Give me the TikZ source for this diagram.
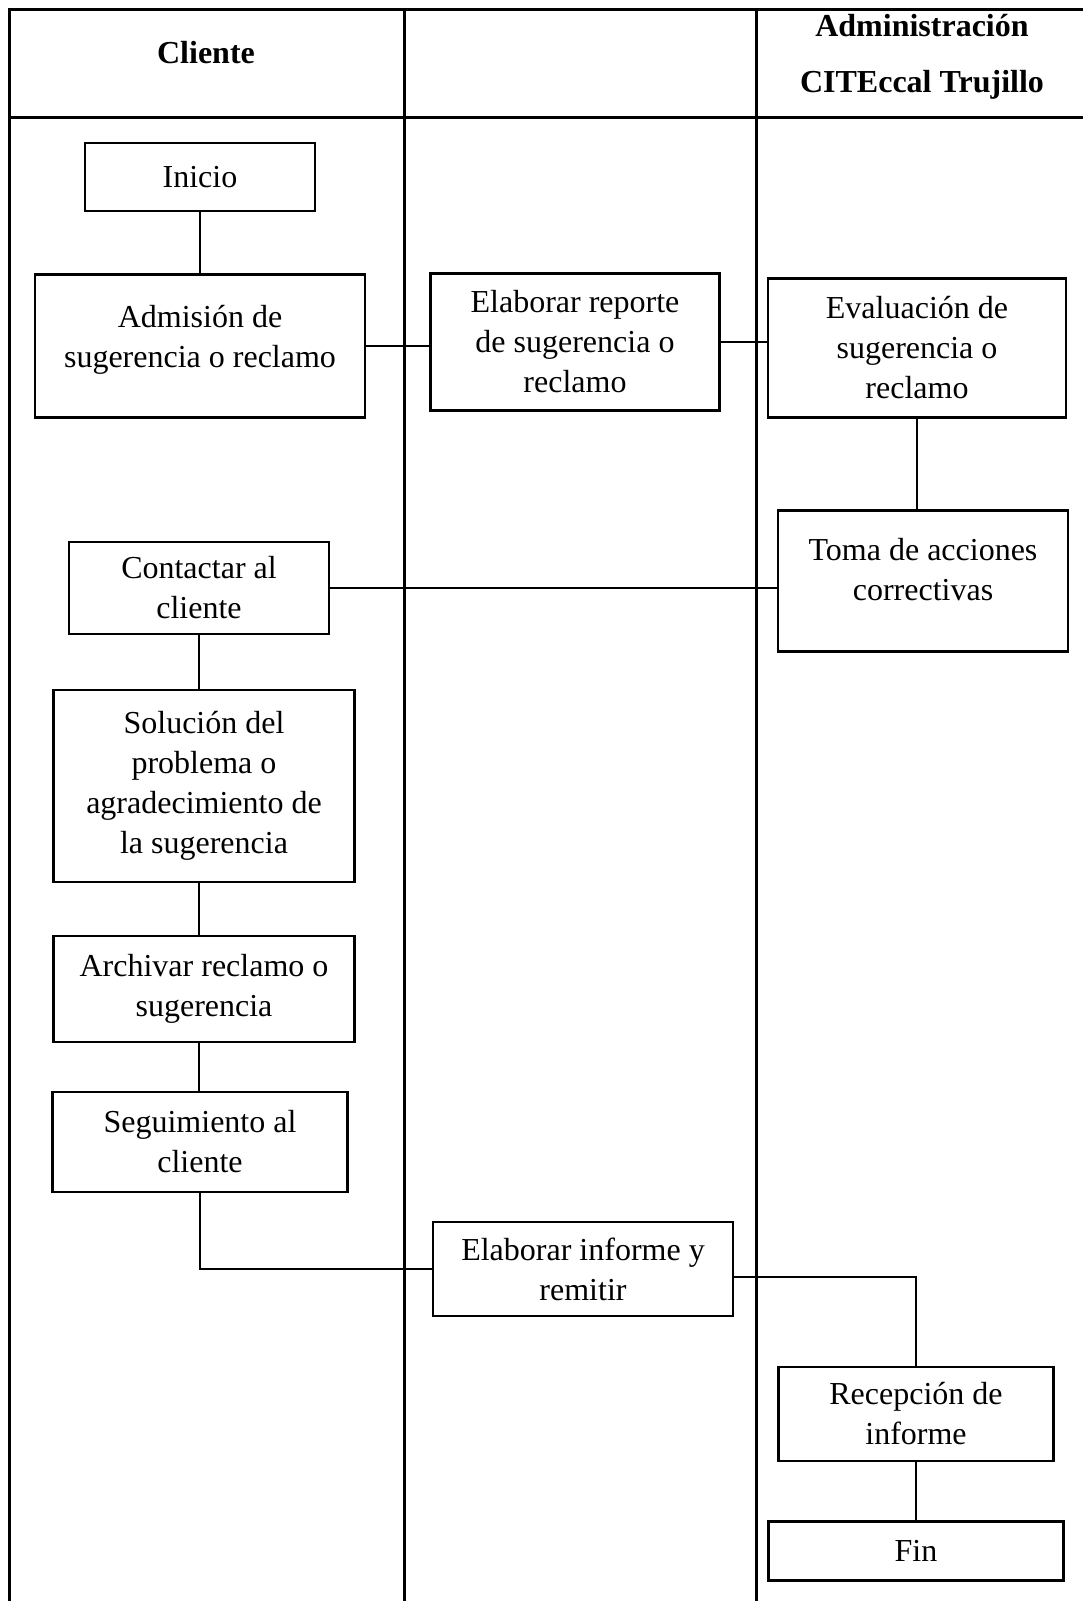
\documentclass[tikz,border=0pt]{standalone}
\usepackage{fontspec}
\setmainfont{Liberation Serif}
\usepackage{tikz}
\usetikzlibrary{
    calc,
    positioning
}

\tikzset{
    caja/.style={draw, line width=2.2pt, align=center, inner sep=0pt,
        font=\fontsize{32}{40}\selectfont},
    titulo/.style={align=center, inner sep=0pt,
        font=\fontsize{32}{56}\selectfont\bfseries},
    linea/.style={line width=1.2pt},
    tabla/.style={line width=3pt}
}

\begin{document}
\begin{tikzpicture}[x=1pt, y=-1pt]
                        \useasboundingbox (0, 0) rectangle (1083, 1601);
                        % tabla de carriles
                        \draw[tabla]
                        (9, 1601) -- (9, 9) -- (1083, 9)
                        (9, 117) -- (1083, 117)
                        (404, 9) -- (404, 1601)
                        (756, 9) -- (756, 1601);
                        \node[titulo] (cliente) at (206, 53) {Cliente};
                        \node[titulo] (admin) at (922, 57) {Administración\\CITEccal Trujillo};
                        % actividades
                        \node[caja, minimum width=230, minimum height=68] (inicio) at (200, 177) {Inicio};
                        \node[caja, minimum width=330, minimum height=143, text depth=20pt] (admision) at (200, 346) {Admisión de\\sugerencia o reclamo};
                        \node[caja, minimum width=289, minimum height=137] (reporte) at (575, 342) {Elaborar reporte\\de sugerencia o\\reclamo};
                        \node[caja, minimum width=298, minimum height=139] (evaluacion) at (917, 348) {Evaluación de\\sugerencia o\\reclamo};
                        \node[caja, minimum width=290, minimum height=141, text depth=24pt] (toma) at (923, 581) {Toma de acciones\\correctivas};
                        \node[caja, minimum width=260, minimum height=92] (contactar) at (199, 588) {Contactar al\\cliente};
                        \node[caja, minimum width=301, minimum height=192] (solucion) at (204, 786) {Solución del\\problema o\\agradecimiento de\\la sugerencia};
                        \node[caja, minimum width=301, minimum height=106] (archivar) at (204, 989) {Archivar reclamo o\\sugerencia};
                        \node[caja, minimum width=295, minimum height=100] (seguimiento) at (200, 1142) {Seguimiento al\\cliente};
                        \node[caja, minimum width=300, minimum height=94] (informe) at (583, 1269) {Elaborar informe y\\remitir};
                        \node[caja, minimum width=275, minimum height=94] (recepcion) at (916, 1414) {Recepción de\\informe};
                        \node[caja, minimum width=295, minimum height=59] (fin) at (916, 1551) {Fin};
                        % conexiones
                        \draw[linea]
                        (inicio) -- (admision)
                        (admision.east) -- (admision.east -| reporte.west)
                        (reporte.east) -- (reporte.east -| evaluacion.west)
                        (evaluacion.south) -- (evaluacion.south |- toma.north)
                        (toma.west |- contactar.east) -- (contactar.east)
                        (contactar.south) -- (contactar.south |- solucion.north)
                        (contactar.south |- solucion.south) -- (contactar.south |- archivar.north)
                        (contactar.south |- archivar.south) -- (contactar.south |- seguimiento.north)
                        (seguimiento.south) |- (informe.west)
                        ([yshift=-8pt]informe.east) -| (recepcion.north)
                        (recepcion) -- (fin);
                    \end{tikzpicture}
\end{document}
